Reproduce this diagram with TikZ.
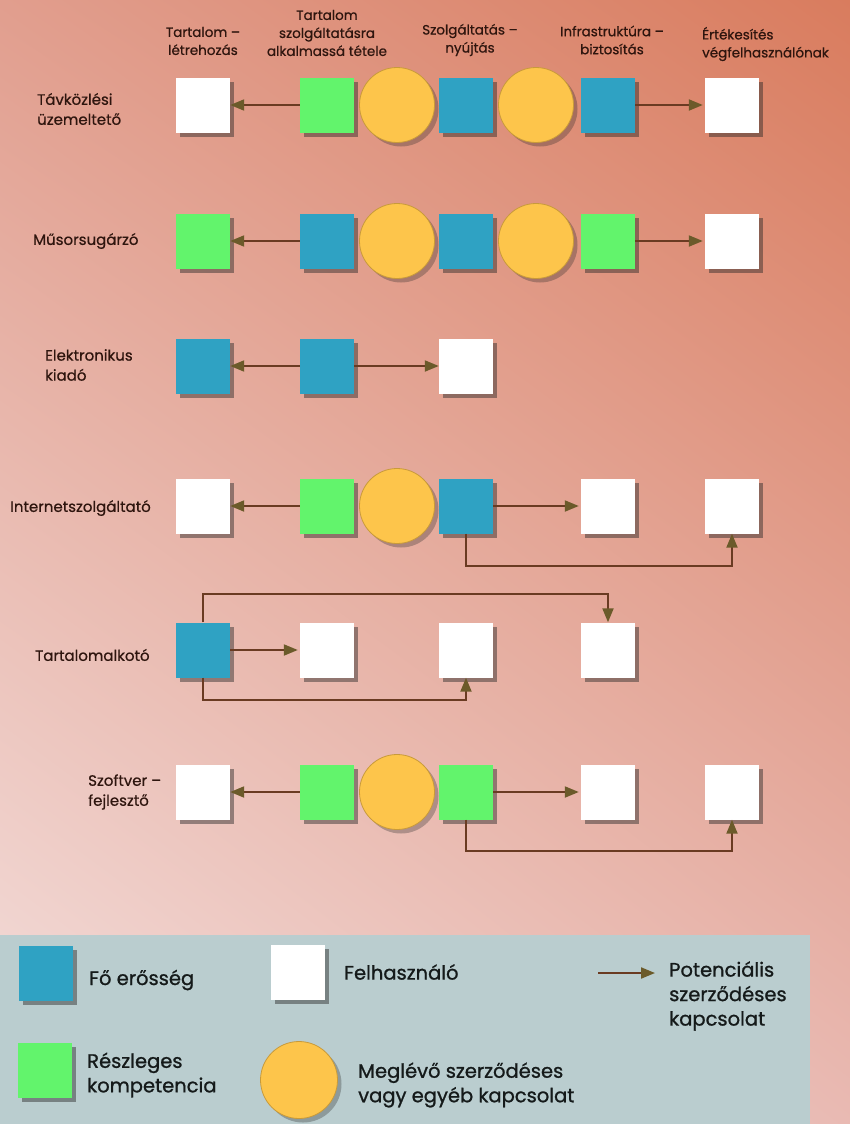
\documentclass[tikz,border=0pt]{standalone}
\usepackage{fontspec}
\setmainfont{Poppins}
\newfontfamily\headfont{Poppins}[FakeBold=0.6]
\newfontfamily\legfont{Poppins}[FakeBold=1.0]
\usetikzlibrary{arrows.meta,shadings}

\definecolor{bluebox}{HTML}{2FA2C3}
\definecolor{greenbox}{HTML}{62F46C}
\definecolor{contract}{HTML}{FDC54B}
\definecolor{contractedge}{HTML}{C89A3A}
\definecolor{link}{HTML}{6A3B22}
\definecolor{linktip}{HTML}{6B5A2A}
\definecolor{labeltext}{HTML}{2E150E}
\definecolor{legendbg}{HTML}{BACDCF}
\definecolor{legendtext}{HTML}{151A1A}
\definecolor{bgUL}{HTML}{E19E8E}
\definecolor{bgUR}{HTML}{D97C5E}
\definecolor{bgLL}{HTML}{F4E0DE}
\definecolor{bgLR}{HTML}{E9BAB3}

\tikzset{
  shadowed/.style={preaction={fill=black!85, fill opacity=#1,
    transform canvas={shift={(4,4)}}}},
  box/.style={rectangle, minimum width=54pt, minimum height=55pt, inner sep=0pt,
    shadowed=0.45},
  fo/.style={box, fill=bluebox},
  resz/.style={box, fill=greenbox},
  user/.style={box, fill=white},
  deal/.style={circle, minimum size=75pt, inner sep=0pt, fill=contract,
    draw=contractedge, line width=0.8pt, shadowed=0.3},
  conn/.style={draw=link, line width=2pt,
    -{Triangle[length=14pt,width=11pt,color=linktip]}},
  hdr/.style={font=\headfont\fontsize{13.5}{18}\selectfont, text=labeltext, align=center, inner sep=0pt},
  rowlab/.style={font=\headfont\fontsize{15}{20}\selectfont, text=labeltext, align=left,
    anchor=west, inner sep=0pt},
  legtext/.style={font=\legfont\fontsize{19.5}{24.5}\selectfont, text=legendtext, align=left,
    anchor=west, inner sep=0pt}
}

\begin{document}
\begin{tikzpicture}[x=1pt, y=-1pt]
  \useasboundingbox (0,0) rectangle (850,1124);
  % background
  \shade[upper left=bgUL, upper right=bgUR, lower left=bgLL, lower right=bgLR]
    (0,0) rectangle (850,1124);

  % column headers
  \node[hdr] (h1) at (203,41) {Tartalom –\\létrehozás};
  \node[hdr] (h2) at (327,33) {Tartalom\\szolgáltatásra\\alkalmassá tétele};
  \node[hdr] (h3) at (470,40) {Szolgáltatás –\\nyújtás};
  \node[hdr] (h4) at (612,40) {Infrastruktúra –\\biztosítás};
  \node[hdr, anchor=west, align=left] (h5) at (702,44) {Értékesítés\\végfelhasználónak};

  % row labels
  \node[rowlab] (l1) at (37,109) {Távközlési\\üzemeltető};
  \node[rowlab] (l2) at (33,241) {Műsorsugárzó};
  \node[rowlab] (l3) at (45,365) {Elektronikus\\kiadó};
  \node[rowlab] (l4) at (10,508) {Internetszolgáltató};
  \node[rowlab] (l5) at (35,655) {Tartalomalkotó};
  \node[rowlab] (l6) at (88,792) {Szoftver –\\fejlesztő};

  % row 1
  \node[user] (r1a) at (203,105) {};
  \node[resz] (r1b) at (327,105) {};
  \node[deal] (r1k) at (397,105) {};
  \node[fo]   (r1c) at (466,105) {};
  \node[deal] (r1l) at (536,105) {};
  \node[fo]   (r1d) at (608,105) {};
  \node[user] (r1e) at (732,105) {};
  \draw[conn] (r1b.west) -- (r1a.east);
  \draw[conn, shorten >=2pt] (r1d.east) -- (r1e.west);

  % row 2
  \node[resz] (r2a) at (203,241) {};
  \node[fo]   (r2b) at (327,241) {};
  \node[deal] (r2k) at (397,241) {};
  \node[fo]   (r2c) at (466,241) {};
  \node[deal] (r2l) at (536,241) {};
  \node[resz] (r2d) at (608,241) {};
  \node[user] (r2e) at (732,241) {};
  \draw[conn] (r2b.west) -- (r2a.east);
  \draw[conn, shorten >=2pt] (r2d.east) -- (r2e.west);

  % row 3
  \node[fo]   (r3a) at (203,366) {};
  \node[fo]   (r3b) at (327,366) {};
  \node[user] (r3c) at (466,366) {};
  \draw[conn] (r3b.west) -- (r3a.east);
  \draw[conn] (r3b.east) -- (r3c.west);

  % row 4
  \node[user] (r4a) at (203,506) {};
  \node[resz] (r4b) at (327,506) {};
  \node[deal] (r4k) at (397,506) {};
  \node[fo]   (r4c) at (466,506) {};
  \node[user] (r4d) at (608,506) {};
  \node[user] (r4e) at (732,506) {};
  \draw[conn] (r4b.west) -- (r4a.east);
  \draw[conn, shorten >=2pt] (r4c.east) -- (r4d.west);
  \draw[conn] (r4c.south) -- ++(0,32) -| (r4e.south);

  % row 5
  \node[fo]   (r5a) at (203,650) {};
  \node[user] (r5b) at (327,650) {};
  \node[user] (r5c) at (466,650) {};
  \node[user] (r5d) at (608,650) {};
  \draw[conn, shorten >=2pt] (r5a.east) -- (r5b.west);
  \draw[conn] (r5a.north) -- ++(0,-28) -| (r5d.north);
  \draw[conn] (r5a.south) -- ++(0,22) -| (r5c.south);

  % row 6
  \node[user] (r6a) at (203,792) {};
  \node[resz] (r6b) at (327,792) {};
  \node[deal] (r6k) at (397,792) {};
  \node[resz] (r6c) at (466,792) {};
  \node[user] (r6d) at (608,792) {};
  \node[user] (r6e) at (732,792) {};
  \draw[conn] (r6b.west) -- (r6a.east);
  \draw[conn, shorten >=2pt] (r6c.east) -- (r6d.west);
  \draw[conn] (r6c.south) -- ++(0,31) -| (r6e.south);

  % legend
  \fill[legendbg] (0,935) rectangle (810,1124);
  \node[fo] (lgfo) at (46,973) {};
  \node[legtext] (lgfotxt) at (89,980) {Fő erősség};
  \node[user] (lguser) at (298,972) {};
  \node[legtext] (lgusertxt) at (344,972) {Felhasználó};
  \coordinate (lgarrA) at (598,973);
  \coordinate (lgarrB) at (655,973);
  \draw[conn] (lgarrA) -- (lgarrB);
  \node[legtext] (lgarrtxt) at (669,996) {Potenciális\\szerződéses\\kapcsolat};
  \node[resz] (lgresz) at (45,1070) {};
  \node[legtext] (lgresztxt) at (87,1075) {Részleges\\kompetencia};
  \node[deal, minimum size=77pt] (lgdeal) at (299,1080) {};
  \node[legtext] (lgdealtxt) at (358,1085) {Meglévő szerződéses\\vagy egyéb kapcsolat};
\end{tikzpicture}
\end{document}
